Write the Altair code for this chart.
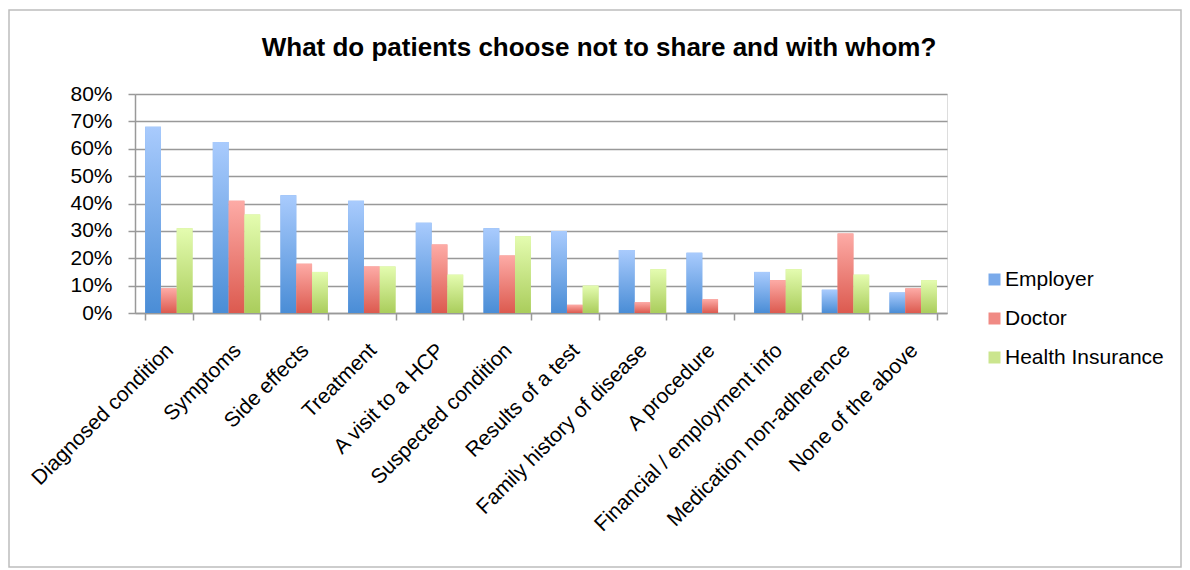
import altair as alt
import pandas as pd

categories = [
    "Diagnosed condition", "Symptoms", "Side effects", "Treatment",
    "A visit to a HCP", "Suspected condition", "Results of a test",
    "Family history of disease", "A procedure", "Financial / employment info",
    "Medication non-adherence", "None of the above",
]
series = ["Employer", "Doctor", "Health Insurance"]
employer = [68, 62.5, 43, 41, 33, 31, 30, 23, 22, 15, 8.5, 7.5]
doctor = [9, 41, 18, 17, 25, 21, 3, 4, 5, 12, 29, 9]
health_insurance = [31, 36, 15, 17, 14, 28, 10, 16, 0, 16, 14, 12]
y_ticks = [0, 0.1, 0.2, 0.3, 0.4, 0.5, 0.6, 0.7, 0.8]
chart_title = "What do patients choose not to share and with whom?"

solid = ["#7aaaea", "#f08a84", "#cbe58e"]
grad_stops = [("#a9cbfd", "#4a8dd6"), ("#fdaba6", "#dc5a4f"), ("#e4fcb0", "#aacd5c")]

rows = []
for s, vals in zip(series, [employer, doctor, health_insurance]):
    for c, v in zip(categories, vals):
        rows.append({"category": c, "series": s, "value": v / 100})
df = pd.DataFrame(rows)

W, H = 812, 219
FONT = "Liberation Sans"

base = alt.Chart(df).encode(
    x=alt.X(
        "category:N", sort=categories, title=None,
        scale=alt.Scale(paddingInner=0.3, paddingOuter=0.15),
        axis=alt.Axis(
            tickBand="extent", labelAngle=-45, labelAlign="right", labelBaseline="middle",
            labelOffset=1, labelPadding=27, labelFontSize=21, labelColor="#000",
            tickSize=7, tickColor="#999", domainColor="#999", domainWidth=1.5,
            tickWidth=1.5, grid=False, labelFont=FONT, labelLimit=500,
        ),
    ),
    xOffset=alt.XOffset("series:N", sort=series, scale=alt.Scale(domain=series)),
    y=alt.Y(
        "value:Q", title=None, scale=alt.Scale(domain=[0, 0.8]),
        axis=alt.Axis(
            values=y_ticks, format=".0%", labelFontSize=21, labelColor="#000",
            labelFont=FONT, tickSize=7, tickColor="#999", tickWidth=1.5,
            domainColor="#999", domainWidth=1.5, gridColor="#999", gridWidth=1.5,
            labelPadding=16,
        ),
    ),
)

legend_layer = base.mark_bar().encode(
    color=alt.Color(
        "series:N", sort=series,
        scale=alt.Scale(domain=series, range=solid),
        legend=alt.Legend(
            title=None, orient="none", legendX=849, legendY=175,
            symbolType="square", symbolSize=144, symbolStrokeWidth=0,
            labelFontSize=21, labelFont=FONT, labelColor="#000",
            rowPadding=17, labelOffset=0,
        ),
    )
)

grad_layers = []
for s, (top, bottom) in zip(series, grad_stops):
    g = {
        "gradient": "linear", "x1": 0, "y1": 0, "x2": 0, "y2": 1,
        "stops": [{"offset": 0, "color": top}, {"offset": 1, "color": bottom}],
    }
    grad_layers.append(
        base.transform_filter(alt.datum.series == s).mark_bar(color=g)
    )

one = pd.DataFrame({"k": [0]})
frame = alt.Chart(one).mark_rect(
    fillOpacity=0, stroke="#bdbdbd", strokeWidth=1.5
).encode(
    x=alt.value(-126), x2=alt.value(1046), y=alt.value(-84), y2=alt.value(473)
)
title_mark = alt.Chart(one).mark_text(
    text=chart_title, fontSize=26, fontWeight="bold", font=FONT, color="#000",
    align="center", baseline="alphabetic",
).encode(x=alt.value(464), y=alt.value(-38))

chart = alt.layer(frame, title_mark, legend_layer, *grad_layers).properties(
    width=W, height=H,
    autosize=alt.AutoSizeParams(type="none"),
    padding={"left": 127, "top": 86, "right": 235, "bottom": 257},
).configure_view(strokeWidth=0).configure(background="white")

chart.save("out.html", embed_options={"renderer": "svg", "actions": False})
